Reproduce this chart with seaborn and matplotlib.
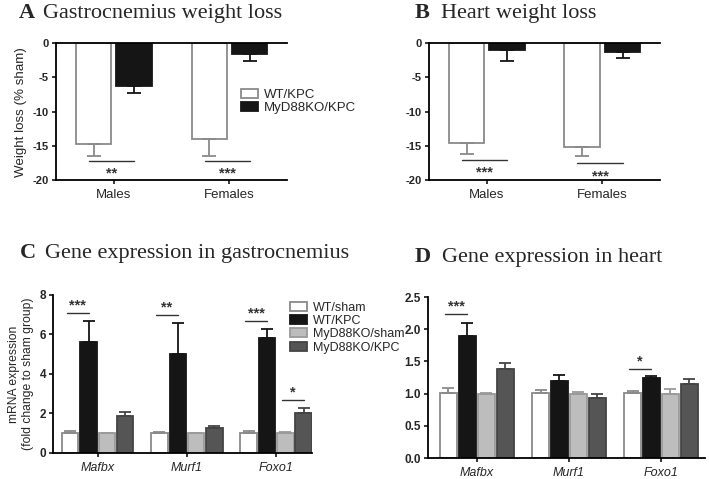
import numpy as np
import pandas as pd
import seaborn as sns
import matplotlib.pyplot as plt

# --- data ---
sexes = ["Males", "Females"]
loss_groups = ["WT/KPC", "MyD88KO/KPC"]

gastro_wt = [-14.75, -13.95]
gastro_wt_sem = [1.7, 2.5]
gastro_ko = [-6.25, -1.65]
gastro_ko_sem = [1.0, 1.0]

heart_wt = [-14.55, -15.2]
heart_wt_sem = [1.6, 1.3]
heart_ko = [-0.97, -1.37]
heart_ko_sem = [1.6, 0.8]

genes = ["Mafbx", "Murf1", "Foxo1"]
expr_groups = ["WT/sham", "WT/KPC", "MyD88KO/sham", "MyD88KO/KPC"]

# rows = genes, columns = expr_groups
gastro_expr = [[1.0, 5.6, 1.0, 1.89],
               [1.0, 5.03, 1.0, 1.25],
               [1.0, 5.82, 1.0, 2.02]]
gastro_expr_sem = [[0.13, 1.08, 0.03, 0.18],
                   [0.05, 1.55, 0.03, 0.13],
                   [0.09, 0.45, 0.07, 0.28]]
heart_expr = [[1.01, 1.9, 1.0, 1.39],
              [1.01, 1.19, 1.0, 0.94],
              [1.01, 1.24, 1.0, 1.15]]
heart_expr_sem = [[0.07, 0.19, 0.005, 0.08],
                  [0.04, 0.10, 0.03, 0.05],
                  [0.03, 0.04, 0.07, 0.07]]

# significance marks: (category, group a, group b, bar height, label)
gastro_loss_sig = [("Males", "WT/KPC", "MyD88KO/KPC", -17.2, "**"),
                   ("Females", "WT/KPC", "MyD88KO/KPC", -17.2, "***")]
heart_loss_sig = [("Males", "WT/KPC", "MyD88KO/KPC", -17.0, "***"),
                  ("Females", "WT/KPC", "MyD88KO/KPC", -17.5, "***")]
gastro_expr_sig = [("Mafbx", "WT/sham", "WT/KPC", 7.1, "***"),
                   ("Murf1", "WT/sham", "WT/KPC", 7.0, "**"),
                   ("Foxo1", "WT/sham", "WT/KPC", 6.7, "***"),
                   ("Foxo1", "MyD88KO/sham", "MyD88KO/KPC", 2.7, "*")]
heart_expr_sig = [("Mafbx", "WT/sham", "WT/KPC", 2.24, "***"),
                  ("Foxo1", "WT/sham", "WT/KPC", 1.39, "*")]

# --- long tables ---
def loss_table(wt, wt_sem, ko, ko_sem):
    rows = []
    for i, s in enumerate(sexes):
        rows.append((s, "WT/KPC", wt[i], wt_sem[i]))
        rows.append((s, "MyD88KO/KPC", ko[i], ko_sem[i]))
    return pd.DataFrame(rows, columns=["cat", "group", "value", "err"])

def expr_table(means, sems):
    rows = []
    for i, g in enumerate(genes):
        for j, grp in enumerate(expr_groups):
            rows.append((g, grp, means[i][j], sems[i][j]))
    return pd.DataFrame(rows, columns=["cat", "group", "value", "err"])

df_gl = loss_table(gastro_wt, gastro_wt_sem, gastro_ko, gastro_ko_sem)
df_hl = loss_table(heart_wt, heart_wt_sem, heart_ko, heart_ko_sem)
df_ge = expr_table(gastro_expr, gastro_expr_sem)
df_he = expr_table(heart_expr, heart_expr_sem)

loss_fill = ["white", "#151515"]
loss_edge = ["#8a8a8a", "#151515"]
expr_fill = ["white", "#151515", "#bdbdbd", "#555555"]
expr_edge = ["#8a8a8a", "#151515", "#9a9a9a", "#444444"]

sns.set_style("ticks")
plt.rcParams['font.family'] = ['Liberation Sans', 'DejaVu Sans']

fig = plt.figure(figsize=(7.09, 4.79), dpi=100)
axA = fig.add_axes([0.079, 0.624, 0.326, 0.286])
axB = fig.add_axes([0.605, 0.624, 0.326, 0.286])
axC = fig.add_axes([0.0748, 0.0543, 0.365, 0.330])
axD = fig.add_axes([0.6037, 0.0438, 0.3907, 0.336])


def draw_panel(ax, df, cats, hue_order, fills, edges, width, gap, capsize):
    sns.barplot(data=df, x="cat", y="value", hue="group", order=cats,
                hue_order=hue_order, palette=fills, width=width, gap=gap,
                errorbar=None, linewidth=1.3, legend=False, ax=ax)
    bars = list(ax.containers)
    centers = {}
    for container, grp, edge in zip(bars, hue_order, edges):
        sub = df[df["group"] == grp].set_index("cat").loc[cats]
        for patch, cat, v, s in zip(container, cats, sub["value"], sub["err"]):
            patch.set_edgecolor(edge)
            patch.set_linewidth(1.3)
            x = patch.get_x() + patch.get_width() / 2
            centers[(cat, grp)] = x
            yerr = [[s], [0]] if v < 0 else [[0], [s]]
            ax.errorbar(x, v, yerr=yerr, fmt="none", ecolor=edge,
                        elinewidth=1.3, capsize=capsize, capthick=1.3, zorder=1)
    ax.set_xlabel("")
    ax.set_ylabel("")
    ax.tick_params(axis="both", length=3, width=1.1, color="black")
    ax.tick_params(axis="y", pad=2)
    for sp in ax.spines.values():
        sp.set_linewidth(1.3)
        sp.set_color("black")
    ax.spines["right"].set_visible(False)
    return centers, [b.patches[0] for b in bars]


def add_sig(ax, centers, sig, below, fontsize=10.5):
    for cat, ga, gb, y, label in sig:
        x0 = centers[(cat, ga)] - 0.04
        x1 = centers[(cat, gb)]
        ax.plot([x0, x1], [y, y], color="#333333", lw=1.0)
        if below:
            ax.text((x0 + x1) / 2, y - 1.9, label, ha="center", va="center",
                    fontsize=fontsize, fontweight="bold", color="#333333")
        else:
            ax.text((x0 + x1) / 2, y, label, ha="center", va="bottom",
                    fontsize=fontsize, fontweight="bold", color="#333333")


# --- A and B: weight loss ---
handles_loss = None
for ax, df, sig in [(axA, df_gl, gastro_loss_sig), (axB, df_hl, heart_loss_sig)]:
    c, h = draw_panel(ax, df, sexes, loss_groups, loss_fill, loss_edge, 0.7, 0.13, 5)
    if handles_loss is None:
        handles_loss = h
    ax.set_ylim(-20, 0)
    ax.set_xlim(-0.5, 1.5)
    ax.set_yticks([0, -5, -10, -15, -20])
    ax.set_yticklabels(["0", "-5", "-10", "-15", "-20"], fontsize=8, fontweight="bold")
    ax.tick_params(axis="x", labelsize=9.5)
    ax.spines["top"].set_visible(True)
    add_sig(ax, c, sig, below=True)

axA.set_ylabel("Weight loss (% sham)", fontsize=9.6, labelpad=4)
axA.legend(handles=handles_loss, labels=loss_groups,
           loc="upper left", bbox_to_anchor=(0.340, 0.815),
           bbox_transform=fig.transFigure, frameon=False, fontsize=9.5,
           handlelength=1.3, handleheight=0.7, handletextpad=0.45,
           labelspacing=0.1, borderpad=0, borderaxespad=0)

# --- C and D: gene expression ---
cC, handles_expr = draw_panel(axC, df_ge, genes, expr_groups, expr_fill, expr_edge, 0.82, 0.1, 4)
axC.set_ylim(0, 8)
axC.set_xlim(-0.5, 2.4)
axC.set_yticks([0, 2, 4, 6, 8])
axC.set_yticklabels(["0", "2", "4", "6", "8"], fontsize=8.5, fontweight="bold")
axC.spines["top"].set_visible(False)
axC.tick_params(axis="x", labelsize=9)
for lab in axC.get_xticklabels():
    lab.set_fontstyle("italic")
axC.set_ylabel("mRNA expression\n(fold change to sham group)", fontsize=8.7, labelpad=4)
add_sig(axC, cC, gastro_expr_sig, below=False)

cD, _ = draw_panel(axD, df_he, genes, expr_groups, expr_fill, expr_edge, 0.82, 0.1, 4)
axD.set_ylim(0, 2.5)
axD.set_xlim(-0.53, 2.48)
axD.set_yticks([0, 0.5, 1.0, 1.5, 2.0, 2.5])
axD.set_yticklabels(["0.0", "0.5", "1.0", "1.5", "2.0", "2.5"], fontsize=8.5, fontweight="bold")
axD.spines["top"].set_visible(False)
axD.tick_params(axis="x", labelsize=9)
for lab in axD.get_xticklabels():
    lab.set_fontstyle("italic")
add_sig(axD, cD, heart_expr_sig, below=False)

fig.legend(handles=handles_expr, labels=expr_groups,
           loc="upper left", bbox_to_anchor=(0.409, 0.370),
           frameon=False, fontsize=9,
           handlelength=1.4, handleheight=0.75, handletextpad=0.45,
           labelspacing=0.1, borderpad=0, borderaxespad=0)

# --- panel titles ---
titles = [(0.027, 0.061, 0.962, "A", "Gastrocnemius weight loss"),
          (0.585, 0.622, 0.962, "B", "Heart weight loss"),
          (0.028, 0.063, 0.461, "C", "Gene expression in gastrocnemius"),
          (0.585, 0.623, 0.453, "D", "Gene expression in heart")]
for xl, xt, y, letter, text in titles:
    fig.text(xl, y, letter, family="Liberation Serif", fontweight="bold",
             fontsize=16, va="baseline")
    fig.text(xt, y, text, family="Liberation Serif", fontsize=16, va="baseline")

fig.savefig("out.png", dpi=100)
